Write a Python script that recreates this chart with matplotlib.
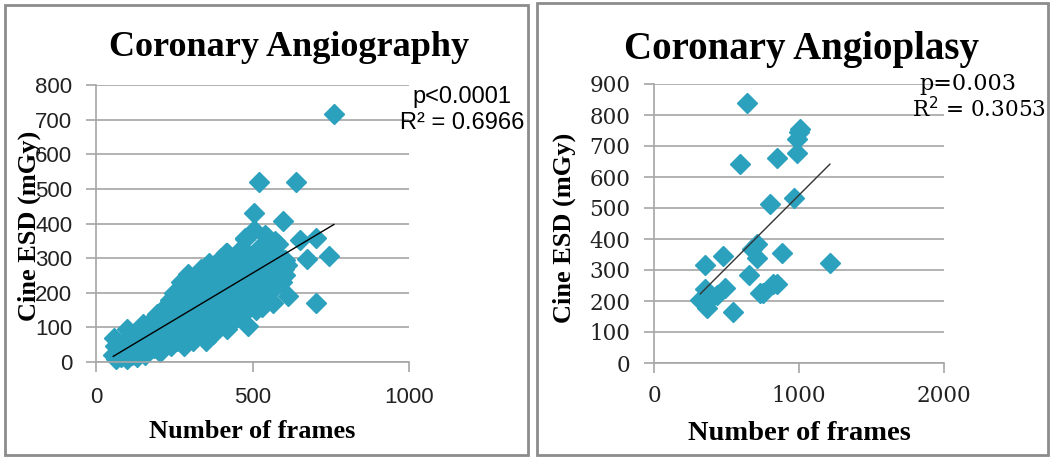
import numpy as np
import matplotlib
matplotlib.use("Agg")
import matplotlib.pyplot as plt
from matplotlib.patches import Rectangle

# angiography: number of frames vs cine ESD (mGy)
angio_frames = [55, 60, 58, 65, 70, 75, 80, 85, 90, 95, 100, 100, 105, 110, 110, 115, 120, 125, 130, 130,
                135, 140, 145, 150, 150, 155, 160, 165, 170, 175, 180, 180, 185, 190, 195, 200, 200,
                205, 210, 215, 220, 225, 230, 235, 240, 240, 245, 250, 255, 260, 260, 265, 270, 275,
                280, 280, 285, 290, 295, 295, 300, 300,
                305, 310, 315, 320, 325, 330, 335, 340, 345, 350, 350, 355, 360, 365, 370, 375, 380,
                385, 390, 395, 400, 400,
                405, 410, 415, 420, 425, 430, 435, 440, 445, 450, 455, 460, 465, 470, 475, 480, 485,
                490, 495, 500, 500,
                505, 510, 515, 520, 525, 530, 535, 540, 545, 550, 555, 560, 565, 570, 575, 580, 585,
                590, 595, 600, 605, 610,
                760, 521, 639, 505, 597, 476, 653, 702, 673, 746, 418, 613, 702, 540, 572, 588, 604]
angio_esd = [20, 45, 70, 10, 30, 55, 15, 40, 25, 60, 95, 10, 35, 75, 50, 20, 40, 65, 90, 15,
             55, 30, 80, 45, 110, 20, 70, 100, 35, 55, 120, 85, 40, 65, 140, 100, 50,
             30, 80, 125, 160, 60, 105, 180, 140, 45, 85, 200, 120, 160, 60, 95, 230, 140,
             180, 45, 110, 210, 255, 75, 150, 100,
             190, 60, 130, 230, 90, 170, 270, 110, 210, 150, 60, 245, 285, 120, 190, 80, 230,
             160, 270, 110, 200, 300,
             140, 250, 315, 95, 180, 280, 220, 120, 160, 300, 250, 190, 330, 140, 355, 230, 105,
             280, 175, 310, 210,
             380, 150, 260, 330, 190, 160, 290, 230, 360, 200, 320, 250, 170, 290, 220, 340, 260,
             300, 230, 270, 250, 280,
             717, 521, 521, 430, 408, 358, 353, 358, 298, 305, 315, 192, 169, 368, 349, 277, 296]

# angioplasty
plasty_frames = [640, 1007, 984, 984, 846, 594, 800, 966, 709, 674, 709, 881, 1213, 349, 479,
                 658, 349, 491, 433, 319, 365, 388, 548, 755, 823, 846, 732, 1000]
plasty_esd = [840, 754, 721, 676, 660, 641, 512, 533, 383, 367, 340, 356, 324, 315, 345,
              283, 240, 243, 218, 202, 178, 205, 166, 227, 254, 254, 227, 745]

W, H = 1051, 459
fig = plt.figure(figsize=(W / 100, H / 100), dpi=100)

marker_color = "#2ca1be"
grid_color = "#a6a6a6"


def box(x0, y0, x1, y1):
    # pixel box (top-left origin) -> figure fraction rect
    return [x0 / W, 1 - y1 / H, (x1 - x0) / W, (y1 - y0) / H]


def fx(px):
    return px / W


def fy(py):
    return 1 - py / H


def style_axes(ax, tick_font, size, xpad, ypad):
    for s in ["top", "right"]:
        ax.spines[s].set_visible(False)
    for s in ["left", "bottom"]:
        ax.spines[s].set_color(grid_color)
        ax.spines[s].set_linewidth(1.2)
    ax.yaxis.grid(True, color=grid_color, linewidth=1.2)
    ax.set_axisbelow(True)
    ax.tick_params(axis="both", direction="out", length=7, width=1.2, color=grid_color,
                   labelsize=size, labelcolor="#222222")
    ax.tick_params(axis="x", pad=xpad)
    ax.tick_params(axis="y", pad=ypad)
    for lab in ax.get_xticklabels() + ax.get_yticklabels():
        lab.set_family(tick_font)


# panel borders
for (a, b, c, d) in [(5, 5, 528, 455), (537, 3, 1048, 455)]:
    fig.patches.append(Rectangle((fx(a), fy(d)), fx(c) - fx(a), fy(b) - fy(d),
                                 transform=fig.transFigure, fill=False,
                                 edgecolor="#8c8c8c", linewidth=2))

# left chart
ax1 = fig.add_axes(box(96, 85, 409, 362))
ax1.set_xlim(0, 1000)
ax1.set_ylim(0, 800)
ax1.set_xticks([0, 500, 1000])
ax1.set_yticks(range(0, 801, 100))
ax1.plot(angio_frames, angio_esd, "D", color=marker_color, ms=10.5, mec=marker_color, clip_on=False)
k, b0 = np.polyfit(angio_frames, angio_esd, 1)
xs = np.array([min(angio_frames), max(angio_frames)])
ax1.plot(xs, k * xs + b0, color="black", linewidth=1)
style_axes(ax1, "Liberation Sans", 16, 11, 10)

# right chart
ax2 = fig.add_axes(box(654, 84, 944, 363))
ax2.set_xlim(0, 2000)
ax2.set_ylim(0, 900)
ax2.set_xticks([0, 1000, 2000])
ax2.set_yticks(range(0, 901, 100))
ax2.plot(plasty_frames, plasty_esd, "D", color=marker_color, ms=10.5, mec=marker_color, clip_on=False)
k2, b2 = np.polyfit(plasty_frames, plasty_esd, 1)
xs2 = np.array([min(plasty_frames), max(plasty_frames)])
ax2.plot(xs2, k2 * xs2 + b2, color="#333333", linewidth=1)
style_axes(ax2, "DejaVu Serif", 15.5, 9, 10)

serif = "Liberation Serif"
fig.text(fx(289), fy(47), "Coronary Angiography", fontsize=26, fontweight="bold",
         family=serif, ha="center", va="center")
fig.text(fx(801), fy(49), "Coronary Angioplasy", fontsize=28, fontweight="bold",
         family=serif, ha="center", va="center")

fig.text(fx(252), fy(432), "Number of frames", fontsize=19, fontweight="bold",
         family=serif, ha="center", va="center")
fig.text(fx(799), fy(433), "Number of frames", fontsize=20.5, fontweight="bold",
         family=serif, ha="center", va="center")
fig.text(fx(29), fy(226), "Cine ESD (mGy)", fontsize=19, fontweight="bold",
         family=serif, ha="center", va="center", rotation=90)
fig.text(fx(564), fy(228), "Cine ESD (mGy)", fontsize=19, fontweight="bold",
         family=serif, ha="center", va="center", rotation=90)

fig.text(fx(462), fy(97), "p<0.0001", fontsize=17, family="Liberation Sans",
         ha="center", va="center")
fig.text(fx(462), fy(123), "R² = 0.6966", fontsize=17, family="Liberation Sans",
         ha="center", va="center")
fig.text(fx(968), fy(84), "p=0.003", fontsize=16, family="DejaVu Serif",
         ha="center", va="center")
fig.text(fx(1046), fy(110), "R$^2$ = 0.3053", fontsize=15.5, family="DejaVu Serif",
         ha="right", va="center")

fig.savefig("out.png", dpi=100)
